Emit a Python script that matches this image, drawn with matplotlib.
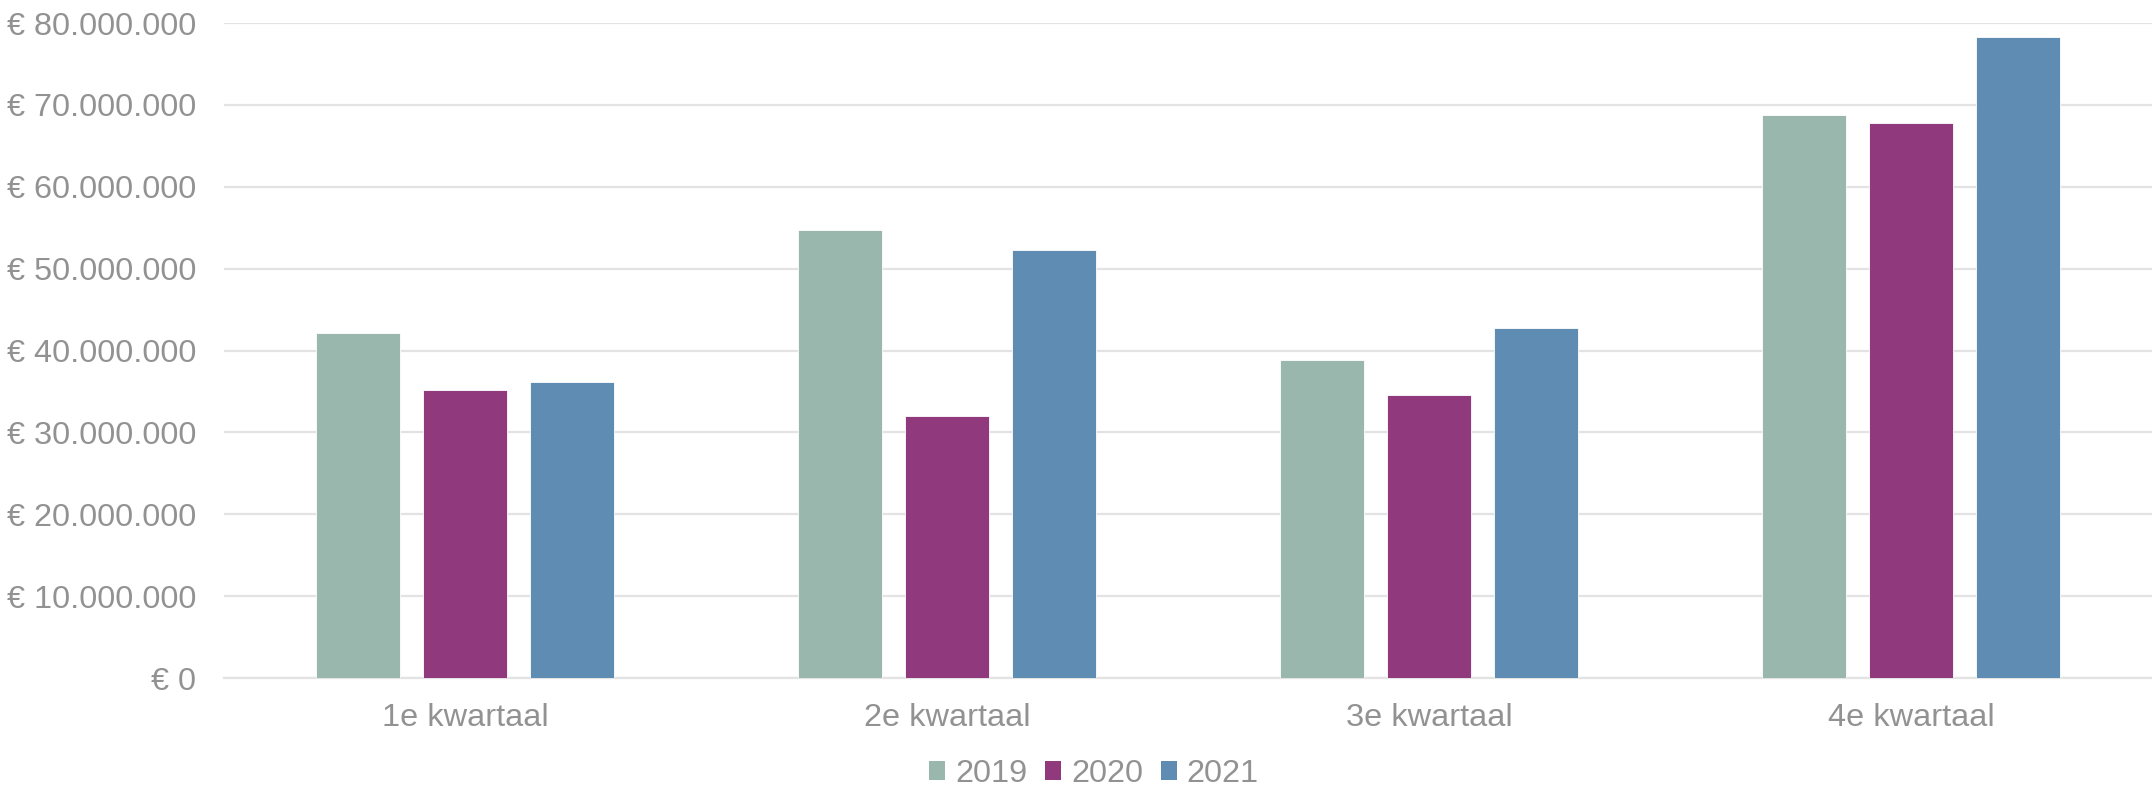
import matplotlib
matplotlib.use("Agg")
import matplotlib.pyplot as plt
from matplotlib.patches import Patch
from matplotlib.ticker import FuncFormatter, MultipleLocator
import numpy as np

categories = ["1e kwartaal", "2e kwartaal", "3e kwartaal", "4e kwartaal"]
years = ["2019", "2020", "2021"]
v2019 = [42.1e6, 54.7e6, 38.9e6, 68.8e6]
v2020 = [35.2e6, 32.0e6, 34.6e6, 67.8e6]
v2021 = [36.1e6, 52.3e6, 42.7e6, 78.3e6]
series = [v2019, v2020, v2021]
colors = ["#99B7AC", "#91397D", "#5E8CB3"]

plt.rcParams['font.family'] = ['Liberation Sans', 'DejaVu Sans']
TXT = "#929292"
FS = 23.4

fig = plt.figure(figsize=(21.52, 7.93), dpi=100)
W, H = 2152, 793
top_px, bot_px = 23, 678
ax = fig.add_axes([224 / W, 1 - bot_px / H, (2152 - 224) / W, (bot_px - top_px) / H])

x = np.arange(len(categories))
width = 0.176
pitch = 0.222
for i, (vals, c) in enumerate(zip(series, colors)):
    ax.bar(x + (i - 1) * pitch, vals, width=width, color=c, edgecolor="white",
           linewidth=0.6, zorder=3, label=years[i])

ax.set_xlim(-0.5, len(categories) - 0.5)
ax.set_ylim(0, 80e6)
ax.yaxis.set_major_locator(MultipleLocator(10e6))

def fmt(v, pos):
    if v == 0:
        return "€ 0"
    return "€ " + f"{int(round(v)):,}".replace(",", ".")
ax.yaxis.set_major_formatter(FuncFormatter(fmt))

ax.grid(axis="y", color="#e3e3e3", linewidth=1.6, zorder=0)
ax.set_axisbelow(True)
for s in ["top", "right", "left"]:
    ax.spines[s].set_visible(False)
ax.spines["bottom"].set_color("#e3e3e3")
ax.spines["bottom"].set_linewidth(1.6)

ax.set_xticks(x)
ax.set_xticklabels(categories)
ax.tick_params(axis="both", length=0, labelsize=FS, colors=TXT)
ax.tick_params(axis="y", pad=20)
ax.tick_params(axis="x", pad=18)

handles = [Patch(facecolor=c, edgecolor="none") for c in colors]
fig.legend(handles, years, loc="center", bbox_to_anchor=(1094 / W, 1 - 774 / H),
           ncol=3, frameon=False, fontsize=FS, labelcolor=TXT,
           handlelength=0.5, handleheight=0.5, handletextpad=0.3,
           columnspacing=0.55)

fig.savefig("out.png", dpi=100)
